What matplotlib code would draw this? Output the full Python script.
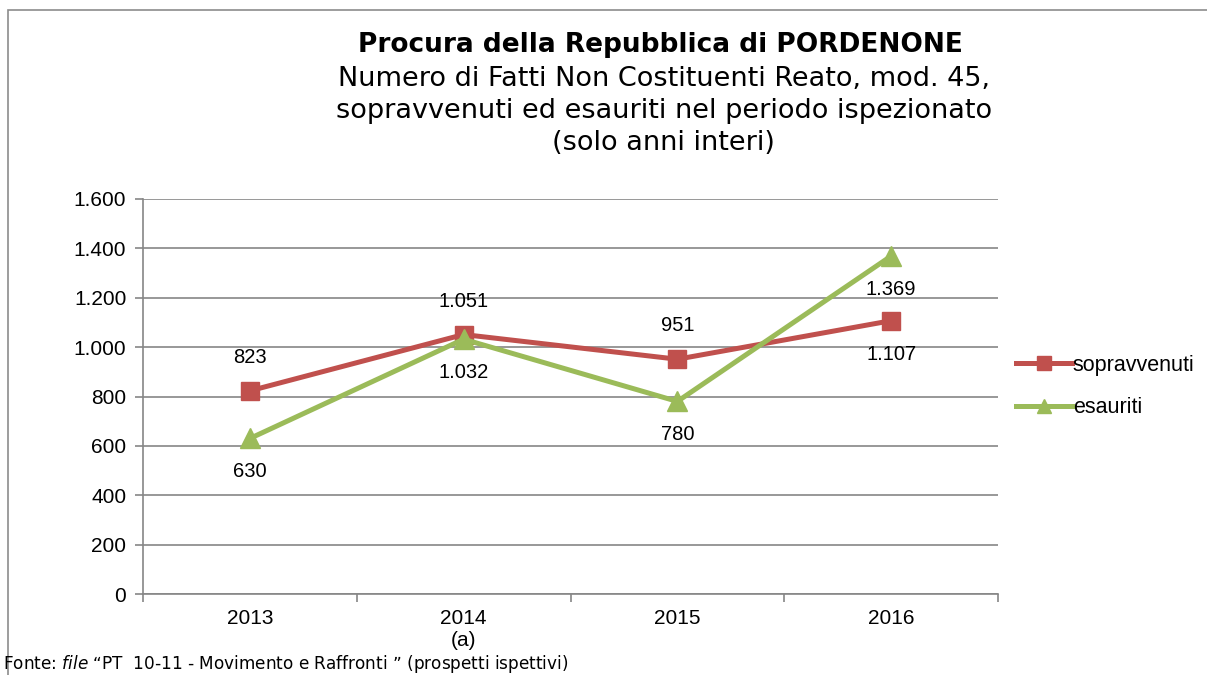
import matplotlib
matplotlib.use("Agg")
import matplotlib.pyplot as plt
from matplotlib.patches import Rectangle

years = ["2013", "2014\n(a)", "2015", "2016"]
sopravvenuti = [823, 1051, 951, 1107]
esauriti = [630, 1032, 780, 1369]
sop_labels = ["823", "1.051", "951", "1.107"]
esa_labels = ["630", "1.032", "780", "1.369"]
sop_pos = ["above", "above", "above", "below"]
esa_pos = ["below", "below", "below", "below"]
yticks = [0, 200, 400, 600, 800, 1000, 1200, 1400, 1600]
ytick_labels = ["0", "200", "400", "600", "800", "1.000", "1.200", "1.400", "1.600"]

RED = "#C0504D"
GREEN = "#9BBB59"
GRID = "#868686"

fig = plt.figure(figsize=(12.07, 6.75), dpi=100)
W, H = 1207, 675
fig.patches.append(Rectangle((8 / W, 1 - 1000 / H), 1.5, 990 / H, transform=fig.transFigure,
                             fill=False, edgecolor="#8c8c8c", linewidth=1.2))

ax = fig.add_axes([143 / W, 1 - 594 / H, 855 / W, 395 / H])
x = list(range(len(years)))
ax.plot(x, sopravvenuti, color=RED, linewidth=3.6, marker="s", markersize=13.5, label="sopravvenuti", zorder=3)
ax.plot(x, esauriti, color=GREEN, linewidth=3.6, marker="^", markersize=15, label="esauriti", zorder=4)

for xi, v, lab, p in zip(x, sopravvenuti, sop_labels, sop_pos):
    off = 24 if p == "above" else -24
    ax.annotate(lab, (xi, v), xytext=(0, off), textcoords="offset points", ha="center", va="center",
                fontsize=14.5, family="Liberation Sans")
for xi, v, lab, p in zip(x, esauriti, esa_labels, esa_pos):
    off = 24 if p == "above" else -24
    ax.annotate(lab, (xi, v), xytext=(0, off), textcoords="offset points", ha="center", va="center",
                fontsize=14.5, family="Liberation Sans")

ax.set_xlim(-0.5, 3.5)
ax.set_ylim(0, 1600)
ax.set_yticks(yticks)
ax.set_yticklabels(ytick_labels, fontsize=15, family="Liberation Sans")
ax.set_xticks(x)
ax.set_xticklabels(years, fontsize=15, family="Liberation Sans", linespacing=1.15)
ax.tick_params(axis="x", length=0, pad=11)
ax.set_xticks([-0.5, 0.5, 1.5, 2.5, 3.5], minor=True)
ax.tick_params(axis="x", which="minor", length=6, color=GRID, width=1.2, direction="out")
ax.tick_params(axis="y", length=6, color=GRID, width=1.2, pad=6)
ax.yaxis.grid(True, color=GRID, linewidth=1.2)
ax.set_axisbelow(True)
for s in ["top", "right"]:
    ax.spines[s].set_visible(False)
ax.spines["left"].set_color(GRID)
ax.spines["bottom"].set_color(GRID)
ax.spines["left"].set_linewidth(1.2)
ax.spines["bottom"].set_linewidth(1.2)

leg = ax.legend(loc="center left", bbox_to_anchor=(0.998, 0.525), frameon=False,
                prop={"family": "Liberation Sans", "size": 15.5}, handlelength=2.6,
                handletextpad=0.05, labelspacing=1.0, markerscale=0.7)

fig.text(0.547, 1 - 45 / H, "Procura della Repubblica di PORDENONE", ha="center", va="center",
         fontsize=19, fontweight="bold", family="DejaVu Sans")
fig.text(0.55, 1 - 111 / H,
         "Numero di Fatti Non Costituenti Reato, mod. 45,\nsopravvenuti ed esauriti nel periodo ispezionato\n(solo anni interi)",
         ha="center", va="center", fontsize=19.5, family="DejaVu Sans", linespacing=1.3)

fig.text(3 / W, 1 - 664 / H,
         "Fonte: $\\it{file}$ \u201cPT  10-11 - Movimento e Raffronti \u201d (prospetti ispettivi)",
         ha="left", va="center", fontsize=12.2, family="DejaVu Sans", color="black")

fig.savefig("out.png", dpi=100, facecolor="white")
